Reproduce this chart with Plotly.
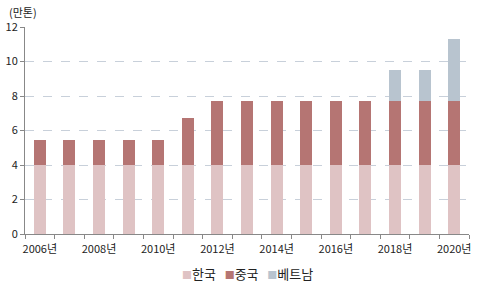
import plotly.graph_objects as go

years = [str(y) for y in range(2006, 2021)]
korea = [4]*15
china = [1.45]*5 + [2.7] + [3.7]*9
vietnam = [0]*12 + [1.8, 1.8, 3.6]
tick_text = [f"{y}년" if (int(y) % 2 == 0) else "" for y in years]
series_names = ["한국", "중국", "베트남"]

colors = {"한국": "#dfc3c4", "중국": "#b57573", "베트남": "#b8c4cf"}

fig = go.Figure()
for name, vals in zip(series_names, [korea, china, vietnam]):
    fig.add_trace(go.Bar(x=years, y=vals, name=name, marker_color=colors[name],
                         marker_line_width=0, showlegend=False))

fig.update_layout(
    barmode="stack", bargap=0.6,
    width=477, height=289,
    margin=dict(l=25, r=6, t=27, b=55),
    paper_bgcolor="white", plot_bgcolor="white",
    font=dict(family="Noto Sans CJK KR, Noto Sans", size=11, color="#222"),
    showlegend=False,
)
fig.update_xaxes(type="category", tickvals=years, ticktext=tick_text,
                 tickson="boundaries", ticks="outside", ticklen=4, tickcolor="#888",
                 showline=True, linecolor="#888", linewidth=1, showgrid=False,
                 tickangle=0, tickfont=dict(size=11), ticklabelstandoff=5)
fig.update_yaxes(range=[0, 12], dtick=2, ticks="outside", ticklen=4, tickcolor="#888",
                 showline=True, linecolor="#888", linewidth=1,
                 showgrid=True, gridcolor="#c8d0da", griddash="dash", gridwidth=1,
                 zeroline=False, tickfont=dict(size=11))
fig.add_annotation(text="(만톤)", xref="paper", yref="paper", x=-0.04, y=1.0, yshift=5,
                   xanchor="left", yanchor="bottom", showarrow=False, font=dict(size=11))

legend_text = "&nbsp;&nbsp;&nbsp;".join(
    f"<span style='color:{colors[n]};font-size:10px'>■</span>{n}" for n in series_names)
fig.add_annotation(text=legend_text, xref="paper", yref="paper", x=0.5, y=0, yshift=-28,
                   xanchor="center", yanchor="top", showarrow=False,
                   font=dict(size=13, color="#222"))

fig.write_html("out.html")
